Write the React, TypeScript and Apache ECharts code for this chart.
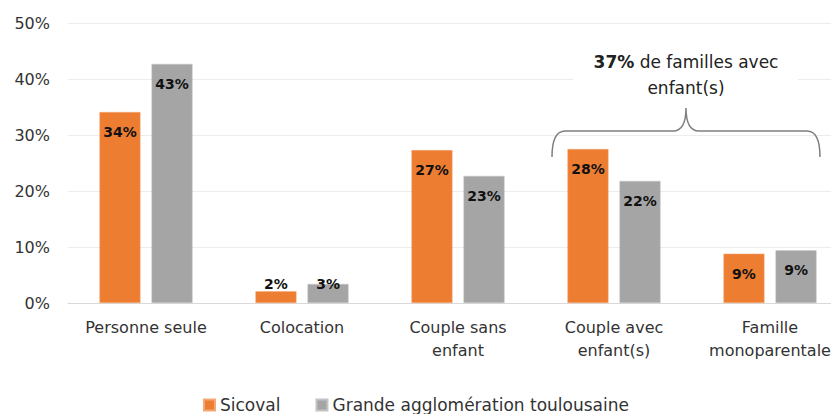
import React, { useEffect, useRef } from "react";
import * as echarts from "echarts";

const categories = ["Personne seule", "Colocation", "Couple sans\nenfant", "Couple avec\nenfant(s)", "Famille\nmonoparentale"];
const sicoval = [34.1, 2.1, 27.3, 27.5, 8.8];
const grandeAgglo = [42.7, 3.4, 22.7, 21.8, 9.4];
const seriesNames = ["Sicoval", "Grande agglomération toulousaine"];
const yTicks = { min: 0, max: 50, interval: 10 };

const FONT = "DejaVu Sans";

const bracePath = "M552,157 Q552,131 565,131 L673,131 Q686,131 686,108 Q686,131 699,131 L807,131 Q820,131 820,157";

echarts.graphic.registerShape(
  "brace",
  echarts.graphic.extendPath(bracePath, {})
);

function labelFor(values: number[], smallIdx: number, smallDist: number) {
  return values.map((v, i) => ({
    value: v,
    label:
      i === smallIdx
        ? { position: "top", distance: smallDist }
        : { position: "insideTop", distance: 13 },
  }));
}

export default function App() {
  const ref = useRef<HTMLDivElement>(null);
  useEffect(() => {
    if (!ref.current) return;
    const chart = echarts.init(ref.current, null, { renderer: "svg" });
    const labelStyle = {
      show: true,
      color: "#111",
      fontFamily: FONT,
      fontWeight: "bold",
      fontSize: 14,
      formatter: (p: any) => Math.round(p.value) + "%",
    };
    chart.setOption({
      animation: false,
      backgroundColor: "#fff",
      textStyle: { fontFamily: FONT },
      grid: { left: 68, right: 0, top: 23, bottom: 111, containLabel: false },
      legend: {
        left: 198,
        top: 391,
        itemWidth: 11,
        itemHeight: 11,
        itemGap: 35,
        icon: "rect",
        textStyle: { fontFamily: FONT, fontSize: 17, color: "#333", lineHeight: 18 },
        data: seriesNames,
      },
      xAxis: {
        type: "category",
        data: categories,
        axisLine: { lineStyle: { color: "#d9d9d9" } },
        axisTick: { show: false },
        axisLabel: {
          color: "#333",
          fontFamily: FONT,
          fontSize: 16,
          lineHeight: 23,
          margin: 13,
          interval: 0,
        },
      },
      yAxis: {
        type: "value",
        min: yTicks.min,
        max: yTicks.max,
        interval: yTicks.interval,
        axisLine: { show: false },
        axisTick: { show: false },
        splitLine: { lineStyle: { color: "#ececec" } },
        axisLabel: {
          formatter: "{value}%",
          color: "#333",
          fontFamily: FONT,
          fontSize: 16,
          margin: 18,
        },
      },
      series: [
        {
          name: seriesNames[0],
          type: "bar",
          data: labelFor(sicoval, 1, 0),
          itemStyle: { color: "#ED7D31", borderColor: "#f4a877", borderWidth: 0.5 },
          barWidth: 41,
          barGap: "27%",
          label: labelStyle,
        },
        {
          name: seriesNames[1],
          type: "bar",
          data: labelFor(grandeAgglo, 1, -7),
          itemStyle: { color: "#A5A5A5", borderColor: "#c4c4c4", borderWidth: 0.5 },
          barWidth: 41,
          label: labelStyle,
        },
      ],
      graphic: [
        {
          type: "rect",
          z: 100,
          shape: { x: 573, y: 44, width: 225, height: 58 },
          style: { fill: "#fff" },
        },
        {
          type: "text",
          z: 101,
          x: 686,
          y: 49,
          style: {
            text: "{b|37%} de familles avec\nenfant(s)",
            align: "center",
            verticalAlign: "top",
            fill: "#222",
            font: `17px "${FONT}"`,
            lineHeight: 26,
            rich: {
              b: { fontWeight: "bold", fontSize: 17, fontFamily: FONT, fill: "#222", lineHeight: 26 },
            },
          },
        },
        {
          type: "brace",
          z: 101,
          style: { stroke: "#7f7f7f", lineWidth: 1.5, fill: "none" },
        },
      ],
    });
    return () => chart.dispose();
  }, []);
  return (
    <div
      ref={ref}
      style={{ position: "fixed", left: 0, top: 0, width: 848, height: 414 }}
    />
  );
}
